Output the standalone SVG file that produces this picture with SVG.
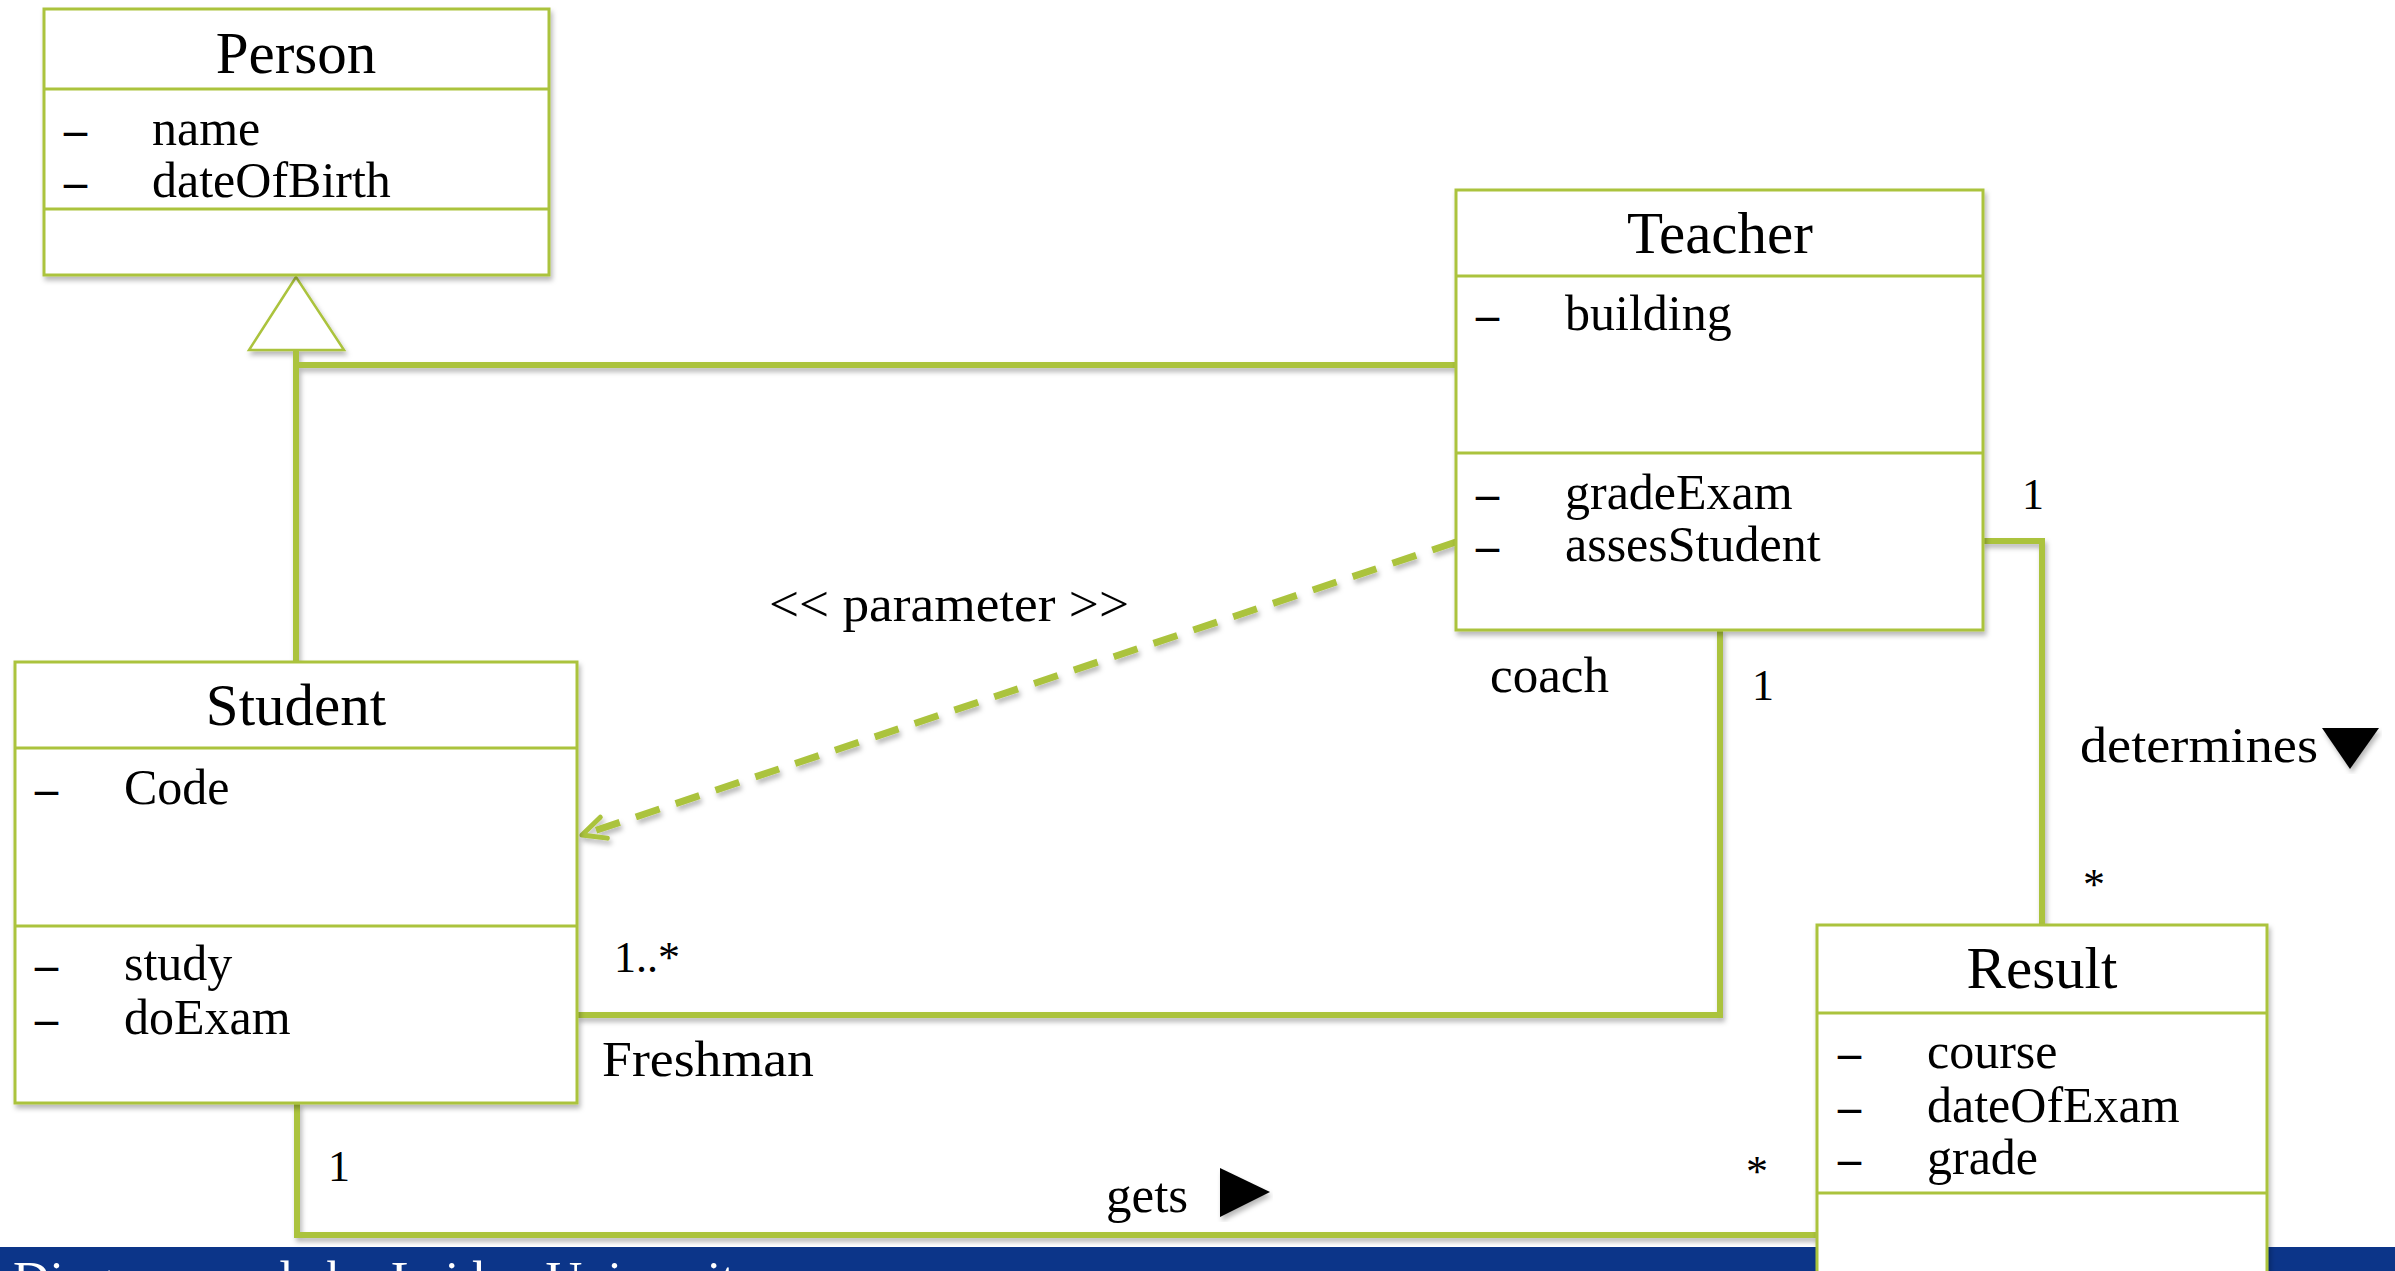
<svg xmlns="http://www.w3.org/2000/svg" width="2395" height="1271" viewBox="0 0 2395 1271">
  <defs>
    <filter id="shadow" x="-5%" y="-5%" width="110%" height="115%">
      <feDropShadow dx="2" dy="4" stdDeviation="2.5" flood-color="#000" flood-opacity="0.28"/>
    </filter>
    <marker id="openArrow" markerUnits="userSpaceOnUse" orient="auto" refX="0" refY="0" viewBox="-30 -16 34 32" markerWidth="34" markerHeight="32">
      <path d="M -23 -11 L 0 0 L -23 11" fill="none" stroke="#abc33d" stroke-width="5" stroke-linecap="round" stroke-linejoin="round"/>
    </marker>
    <style>
      .box { fill: #ffffff; stroke: #abc33d; stroke-width: 3; }
      .sep { stroke: #abc33d; stroke-width: 3; }
      .link { fill: none; stroke: #abc33d; stroke-width: 6; }
      .dep { fill: none; stroke: #abc33d; stroke-width: 7; stroke-dasharray: 25 17; }
      text { font-family: "Liberation Serif", "Times New Roman", serif; fill: #000; }
      .title { font-size: 59px; text-anchor: middle; }
      .attr { font-size: 50px; }
      .dash { font-size: 46px; font-weight: bold; }
      .lbl { font-size: 51px; }
      .mult { font-size: 44px; }
      .banner-text { font-size: 51px; fill: #ffffff; }
    </style>
  </defs>

  <rect x="0" y="0" width="2395" height="1271" fill="#ffffff"/>

  <!-- footer banner -->
  <g id="footer">
    <rect x="0" y="1247" width="2395" height="24" fill="#0c3589"/>
    <text class="banner-text" x="13" y="1296">Diagram made by Leiden University</text>
  </g>

  <!-- connectors -->
  <g id="connectors" filter="url(#shadow)">
    <!-- generalization: Student and Teacher to Person -->
    <path class="link" d="M 296 350 V 662"/>
    <path class="link" d="M 296 365 H 1456"/>
    <polygon points="296,277 249,350 344,350" fill="#ffffff" stroke="#abc33d" stroke-width="2.5"/>
    <!-- parameter dependency -->
    <path class="dep" d="M 1456 542 L 582 835" marker-end="url(#openArrow)"/>
    <!-- coach association -->
    <path class="link" d="M 1720 630 V 1015 H 577"/>
    <!-- determines association -->
    <path class="link" d="M 1983 541 H 2042 V 925"/>
    <!-- gets association -->
    <path class="link" d="M 297 1103 V 1235 H 1817"/>
  </g>

  <!-- connector labels -->
  <g id="labels">
    <text class="lbl" x="769" y="621" textLength="360" lengthAdjust="spacingAndGlyphs">&lt;&lt; parameter &gt;&gt;</text>
    <text class="lbl" x="1490" y="692">coach</text>
    <text class="mult" x="1752" y="700">1</text>
    <text class="mult" x="2022" y="509">1</text>
    <text class="lbl" x="2080" y="762" textLength="238" lengthAdjust="spacingAndGlyphs">determines</text>
    <polygon points="2322,728 2379,728 2350,769" fill="#000" filter="url(#shadow)"/>
    <text class="mult" x="2083" y="899">*</text>
    <text class="mult" x="614" y="972">1..*</text>
    <text class="lbl" x="602" y="1076" textLength="212" lengthAdjust="spacingAndGlyphs">Freshman</text>
    <text class="mult" x="328" y="1181">1</text>
    <text class="lbl" x="1106" y="1212">gets</text>
    <polygon points="1220,1168 1270,1192 1220,1217" fill="#000" filter="url(#shadow)"/>
    <text class="mult" x="1746" y="1186">*</text>
  </g>

  <!-- Person -->
  <g id="person">
    <rect class="box" x="44" y="9" width="505" height="266" filter="url(#shadow)"/>
    <line class="sep" x1="44" y1="89" x2="549" y2="89"/>
    <line class="sep" x1="44" y1="209" x2="549" y2="209"/>
    <text class="title" x="296" y="73">Person</text>
    <text class="dash" x="64" y="145">–</text>
    <text class="attr" x="152" y="145">name</text>
    <text class="dash" x="64" y="197">–</text>
    <text class="attr" x="152" y="197">dateOfBirth</text>
  </g>

  <!-- Teacher -->
  <g id="teacher">
    <rect class="box" x="1456" y="190" width="527" height="440" filter="url(#shadow)"/>
    <line class="sep" x1="1456" y1="276" x2="1983" y2="276"/>
    <line class="sep" x1="1456" y1="453" x2="1983" y2="453"/>
    <text class="title" x="1720" y="253">Teacher</text>
    <text class="dash" x="1476" y="330">–</text>
    <text class="attr" x="1565" y="330">building</text>
    <text class="dash" x="1476" y="509">–</text>
    <text class="attr" x="1565" y="509">gradeExam</text>
    <text class="dash" x="1476" y="561">–</text>
    <text class="attr" x="1565" y="561">assesStudent</text>
  </g>

  <!-- Student -->
  <g id="student">
    <rect class="box" x="15" y="662" width="562" height="441" filter="url(#shadow)"/>
    <line class="sep" x1="15" y1="748" x2="577" y2="748"/>
    <line class="sep" x1="15" y1="926" x2="577" y2="926"/>
    <text class="title" x="296" y="725">Student</text>
    <text class="dash" x="35" y="804">–</text>
    <text class="attr" x="124" y="804">Code</text>
    <text class="dash" x="35" y="980">–</text>
    <text class="attr" x="124" y="980">study</text>
    <text class="dash" x="35" y="1034">–</text>
    <text class="attr" x="124" y="1034">doExam</text>
  </g>

  <!-- Result -->
  <g id="result">
    <rect class="box" x="1817" y="925" width="450" height="400" filter="url(#shadow)"/>
    <line class="sep" x1="1817" y1="1013" x2="2267" y2="1013"/>
    <line class="sep" x1="1817" y1="1193" x2="2267" y2="1193"/>
    <text class="title" x="2042" y="988">Result</text>
    <text class="dash" x="1838" y="1068">–</text>
    <text class="attr" x="1927" y="1068">course</text>
    <text class="dash" x="1838" y="1122">–</text>
    <text class="attr" x="1927" y="1122">dateOfExam</text>
    <text class="dash" x="1838" y="1174">–</text>
    <text class="attr" x="1927" y="1174">grade</text>
  </g>
</svg>
